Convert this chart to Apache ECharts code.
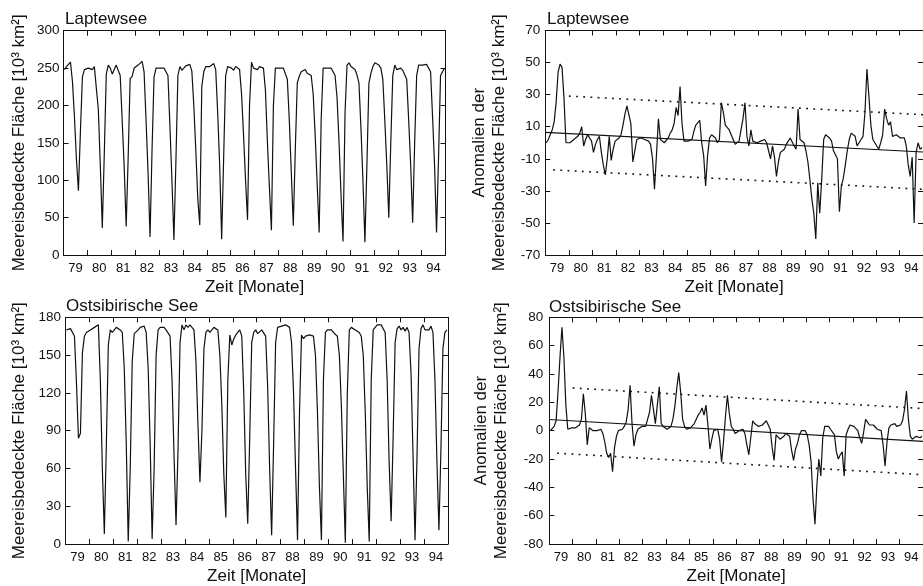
<!DOCTYPE html>
<html><head><meta charset="utf-8">
<script src="https://cdn.jsdelivr.net/npm/echarts@6/dist/echarts.min.js"></script>
<style>html,body{margin:0;padding:0;background:#fff}#c{width:923px;height:586px}</style>
</head><body><div id="c"></div>
<script>
// ---- categories (years, Jan 1979 .. Dec 1994, monthly values) ----
const years = ['79','80','81','82','83','84','85','86','87','88','89','90','91','92','93','94'];

// ---- tick labels ----
const ticksLaptevIce = [0, 50, 100, 150, 200, 250, 300];
const ticksLaptevAnom = [-70, -50, -30, -10, 10, 30, 50, 70];
const ticksOstIce = [0, 30, 60, 90, 120, 150, 180];
const ticksOstAnom = [-80, -60, -40, -20, 0, 20, 40, 60, 80];

// ---- Laptewsee: meereisbedeckte Flaeche [10^3 km^2], monthly ----
const laptevIce = [
 248,252,255,258,232,185,128, 86,165,238,248,250,
 250,249,248,252,250,195,120, 36,135,242,254,250,
 242,248,254,256,240,180,118, 38,130,236,239,250,
 252,254,256,259,245,180,110, 24,140,238,250,252,
 250,250,250,250,240,172,100, 20,125,240,252,247,
 250,253,255,255,246,200,140, 75, 40,225,245,252,
 250,252,254,256,248,190,120, 21,130,240,252,254,
 250,247,252,250,248,215,160,100, 47,200,258,250,
 248,248,252,254,250,220,150, 90, 33,200,250,250,
 250,252,250,248,235,180,110, 39,140,230,239,245,
 243,248,243,245,240,215,160, 95, 30,180,250,252,
 250,252,250,245,240,210,150, 80, 18,190,254,257,
 252,250,248,241,230,170,100, 17,120,230,243,252,
 257,255,254,250,235,180,120, 50,150,240,254,248,
 250,250,247,245,235,180,120, 43,150,240,254,254,
 254,252,255,257,245,185,120, 30,130,240,245,250
];

// ---- Laptewsee: Anomalien ----
const laptevAnom = [
   0,  2,  5,  8, 13, 25, 44, 49, 47, 28,  0, -1,
   0,  1,  2,  3,  4,  6, 10, -2,  2,  5,  4,  1,
  -6, -1,  2,  4, -6,-14,-20,-10,  4,-11, -4,  1,
   2,  3,  5, 11, 18, 23, 22, 12,-12,-12,  2,  1,
   3,  3,  2,  3,  1, -1,-10,-29, -8, 15,  2,  1,
   0,  1,  3,  6,  8, 12, 22, 17, 35, 12,  1,  2,
   1,  1,  2,  7, 11, 11, 14,  0, -8,-27, -8,  3,
   5,  4,  3,  0,  2, 25, 19, 11, 11,  8,  5,  2,
  -1,  0,  1,  8, 15, 25,  4, -2,  8,  1,  1,  0,
   1,  1,  2,  2,  0, -5,-10, -2, -9,-21,-12, -6,
  -5, -4, -1,  1,  3,  2, -2, -4, 21,  2,  2,  0,
  -5,-12,-23,-35,-44,-60,-25,-44,-23,  2,  5,  6,
   3,  1, -5, -4,-10,-43,-27,-22,-14, -5,  2,  6,
   6,  4, -2,  0,  2,  4, 19, 46, 29, 11,  2,  1,
  -2, -4,  0,  5, 21, 15, 11, 13,  4,  5,  5,  5,
   3,  4,  3, -2,-14,-21, -9,-50, -6,  0, -4, -3
];
// trend and band [month, value]
const laptevTrend = [[0, 6.5], [192, -5.8]];
const laptevUpper = [[12, 29.1], [192, 17.5]];
const laptevLower = [[4, -16.9], [192, -29.0]];

// ---- Ostsibirische See: meereisbedeckte Flaeche ----
const ostIce = [
 170,170,171,172,165,128, 84, 88,152,165,168,169,
 170,171,172,173,174,130, 60,  8, 78,158,170,168,
 170,172,171,170,168,140, 80,  2, 60,145,167,168,
 170,172,173,173,168,140, 80,  4, 60,150,170,172,
 172,172,170,170,165,130, 70, 15, 75,160,174,170,
 174,172,174,174,170,145, 95, 49, 90,155,168,170,
 168,170,172,172,170,150,110, 55, 21,130,166,158,
 163,166,168,170,165,120, 55, 16, 85,160,168,170,
 167,168,170,170,165,125, 60,  7, 80,160,172,173,
 173,173,174,174,172,160,120, 60,  3,105,166,163,
 165,165,166,166,165,150,105, 45,  3,130,168,170,
 170,170,168,168,165,150,110, 55,  1,120,170,172,
 172,170,170,168,165,150,105, 45,  2,130,170,172,
 174,174,174,173,168,130, 65, 18, 85,160,171,173,
 170,172,169,172,168,135, 70,  3, 70,155,171,174,
 170,171,170,173,168,130, 65, 11, 75,155,168,170
];

// ---- Ostsibirische See: Anomalien ----
const ostAnom = [
   0,  1,  3,  7, 28, 52, 73, 52, 18,  1,  1,  2,
   2,  2,  3,  4,  8, 26, 12,-10,  2,  1,  0,  1,
   0,  1,  1, -2, -8,-16,-19,-16,-29,-12, -4,  0,
   0,  1,  3,  6, 15, 32,  5,-11, -3,  1,  2,  3,
   3,  3,  4, 13, 25, 15,  5, 18, 31,  5,  3,  2,
   1,  2,  3,  8, 17, 30, 41, 27,  8,  3,  1,  1,
   2,  3,  5,  8, 11, 13, 16, 11, 18,  4,-13, -6,
   0,  1,  1, -6,-22, -8, 10, 25, 12,  3,  1, -2,
  -2,  0,  1,  1, -2,-10,-17, -5,  7,  5,  4,  3,
   3,  4,  5,  7,  6,  1,-12,-21, -3, -4, -6, -5,
  -4, -2, -2, -4,-14,-21,-13, -9, -3,  0,  1,  0,
  -3,-10,-22,-48,-66,-38,-20,-32, -5,  3,  3,  3,
   1,  0, -3,-15,-20,-17,-15,-32, -3,  1,  4,  4,
   3,  3,  0, -5, -9, -1,  8,  6,  4,  3,  4,  3,
   1,  2,  0,-10,-25, -8,  2,  4,  3,  5,  3,  3,
   4,  7, 15, 28,  8, -4, -6, -5, -4, -3, -5, -4
];
const ostTrend = [[0, 7.9], [192, -7.6]];
const ostUpper = [[12, 30.1], [192, 15.6]];
const ostLower = [[4, -15.9], [192, -31.1]];

// ---------------------------------------------------------------
const FONT = '"Liberation Sans", Arial, Helvetica, sans-serif';
const BLACK = '#111';
const toPairs = arr => arr.map((v, i) => [i + 0.5, v]);

const panels = [
  {grid:{left:63.5, top:30.7, width:382, height:224.3}, title:'Laptewsee', tTop:11, tLeft:65,
   yName:'Meereisbedeckte Fläche [10³ km²]', yGap:34, ticks:ticksLaptevIce, yMargin:4,
   data:laptevIce},
  {grid:{left:545.3, top:30.5, width:384, height:224.5}, title:'Laptewsee', tTop:11, tLeft:547,
   yName:'Anomalien der\nMeereisbedeckte Fläche [10³ km²]', yGap:36, ticks:ticksLaptevAnom, yMargin:5,
   data:laptevAnom, trend:laptevTrend, upper:laptevUpper, lower:laptevLower},
  {grid:{left:65.5, top:317.3, width:382.4, height:226.7}, title:'Ostsibirische See', tTop:298, tLeft:66,
   yName:'Meereisbedeckte Fläche [10³ km²]', yGap:36, ticks:ticksOstIce, yMargin:4.5,
   data:ostIce},
  {grid:{left:549.3, top:317.3, width:384, height:226.7}, title:'Ostsibirische See', tTop:299, tLeft:549,
   yName:'Anomalien der\nMeereisbedeckte Fläche [10³ km²]', yGap:38, ticks:ticksOstAnom, yMargin:6,
   data:ostAnom, trend:ostTrend, upper:ostUpper, lower:ostLower}
];

const axisLine = {show:true, onZero:false, lineStyle:{color:BLACK, width:1}};
const tick = {show:true, inside:true, length:5, lineStyle:{color:BLACK, width:1}};
const option = {
  animation:false,
  backgroundColor:'#fff',
  title:[], grid:[], xAxis:[], yAxis:[], series:[]
};

panels.forEach((p, g) => {
  option.grid.push(Object.assign({containLabel:false}, p.grid));
  option.title.push({text:p.title, left:p.tLeft, top:p.tTop, padding:0,
    textStyle:{fontFamily:FONT, fontSize:17, fontWeight:'normal', color:BLACK}});
  const tmin = p.ticks[0], tmax = p.ticks[p.ticks.length - 1];
  // bottom category axis (year labels between year-boundary ticks)
  option.xAxis.push({gridIndex:g, type:'category', data:years, position:'bottom', boundaryGap:true,
    axisLine, axisTick:Object.assign({alignWithLabel:false, interval:0}, tick),
    axisLabel:{interval:0, color:BLACK, fontFamily:FONT, fontSize:13, margin:7},
    name:'Zeit [Monate]', nameLocation:'middle', nameGap:24,
    nameTextStyle:{fontFamily:FONT, fontSize:17, color:BLACK},
    splitLine:{show:false}});
  // top value axis (months since Jan 1979), carries the series
  option.xAxis.push({gridIndex:g, type:'value', position:'top', min:0, max:192, interval:12,
    axisLine, axisTick:tick, axisLabel:{show:false}, splitLine:{show:false}});
  // left y axis
  option.yAxis.push({gridIndex:g, type:'value', position:'left', min:tmin, max:tmax,
    axisLine, axisTick:Object.assign({customValues:p.ticks}, tick),
    axisLabel:{customValues:p.ticks, color:BLACK, fontFamily:FONT, fontSize:13.5, margin:p.yMargin},
    name:p.yName, nameLocation:'middle', nameGap:p.yGap,
    nameTextStyle:{fontFamily:FONT, fontSize:17, color:BLACK, lineHeight:20, align:'center'},
    splitLine:{show:false}});
  // right y axis
  option.yAxis.push({gridIndex:g, type:'value', position:'right', min:tmin, max:tmax,
    axisLine, axisTick:Object.assign({customValues:p.ticks}, tick),
    axisLabel:{show:false, customValues:p.ticks}, splitLine:{show:false}});

  const xi = 2 * g + 1, yi = 2 * g;
  option.series.push({type:'line', xAxisIndex:xi, yAxisIndex:yi, data:toPairs(p.data),
    showSymbol:false, symbol:'none', clip:true,
    lineStyle:{color:BLACK, width:1.2}, z:3});
  if (p.trend) {
    option.series.push({type:'line', xAxisIndex:xi, yAxisIndex:yi, data:p.trend,
      showSymbol:false, symbol:'none', clip:true, lineStyle:{color:BLACK, width:1.1}, z:4});
    [p.upper, p.lower].forEach(d => option.series.push({type:'line', xAxisIndex:xi, yAxisIndex:yi,
      data:d, showSymbol:false, symbol:'none', clip:true,
      lineStyle:{color:BLACK, width:1.6, type:[1.8, 5.4]}, z:4}));
  }
});

const chart = echarts.init(document.getElementById('c'));
chart.setOption(option);
</script>
</body></html>
